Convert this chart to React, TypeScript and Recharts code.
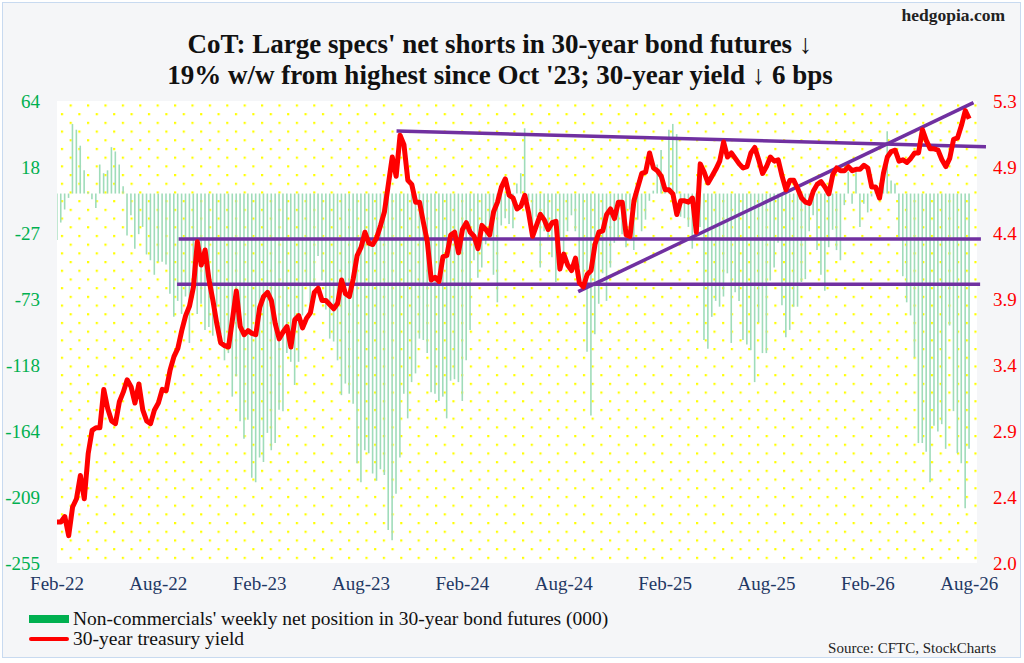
import {
  Bar,
  CartesianGrid,
  ComposedChart,
  Line,
  ReferenceLine,
  XAxis,
  YAxis,
} from 'recharts'

// weekly net position of non-commercials, 000 contracts
const netPosition = [
  -32, -20, -11, -3, 48, 44, 33, 16, 1, -4,
  -10, 20, 14, 16, 32, 29, 20, 5, -29, -15,
  -38, -28, -23, -42, -46, -56, -47, -47, -49, -69,
  -85, -74, -83, -71, -103, -64, -83, -76, -94, -92,
  -98, -78, -97, -115, -110, -140, -126, -157, -169, -156,
  -196, -199, -182, -185, -165, -177, -172, -149, -150,
  -110, -116, -132, -116, -84, -64, -80, -64, -43, -60,
  -80, -100, -102, -115, -139, -131, -138, -145, -186, -199,
  -177, -179, -193, -198, -190, -194, -232, -239, -207, -182,
  -138, -155, -130, -124, -100, -101, -110, -137, -138, -143,
  -140, -155, -129, -128, -130, -143, -115, -94, -46, -58,
  -51, -35, -26, -56, -75, -22, -17, -21, -24,
  7, 14, 45, -5, -26, -16, -51, -26, -32, -44,
  -61, -32, -44, -26, -15, -26, -51, -64, -109, -153,
  -97, -76, -55, -74, -51, -34, -31, -28, -37, -11,
  -39, -18, -26, -18, -5, 2, 20, 30, 5, 44,
  48, 41, -16, -17, -23, -38, -26, -23, -101, -107,
  -85, -74, -78, -71, -55, -103, -68, -74, -101,
  -104, -108, -130, -89, -110, -110, -60, -51, -34, -77,
  -99, -94, -78, -78, -61, -59, -26, -15, -39, -56,
  -67, -37, -25, -39, -46, -8, 15, -7, 15, -23,
  -7, -13, -2, 3, -1, 6, 43, 9, 7, -30,
  -57, -75, -84, -113, -172, -172, -178, -199, -160, -164,
  -159, -176, -91, -150, -179, -186, -217, -176,
]

// 30-year treasury yield, %
const yield30 = [
  2.26, 2.26, 2.3, 2.16, 2.37, 2.43, 2.6, 2.43, 2.76, 2.93,
  2.95, 2.95, 3.23, 3.09, 3.0, 2.98, 3.14, 3.21, 3.3, 3.25,
  3.13, 3.27, 3.08, 3.0, 2.98, 3.08, 3.13, 3.23, 3.22, 3.37,
  3.47, 3.53, 3.66, 3.77, 3.84, 3.98, 4.31, 4.14, 4.25, 4.03,
  3.88, 3.71, 3.57, 3.55, 3.54, 3.74, 3.95, 3.69, 3.63, 3.66,
  3.64, 3.63, 3.83, 3.91, 3.94, 3.88, 3.71, 3.6, 3.65,
  3.69, 3.54, 3.74, 3.77, 3.68, 3.75, 3.79, 3.94, 3.97, 3.88,
  3.88, 3.85, 3.82, 3.86, 4.03, 3.93, 3.91, 4.04, 4.21, 4.27,
  4.38, 4.3, 4.29, 4.34, 4.43, 4.53, 4.73, 4.93, 4.79, 5.09,
  5.02, 4.76, 4.73, 4.6, 4.6, 4.45, 4.31, 4.03, 4.05, 4.02,
  4.2, 4.21, 4.36, 4.38, 4.23, 4.4, 4.45, 4.38, 4.35, 4.26,
  4.43, 4.4, 4.36, 4.53, 4.6, 4.71, 4.77, 4.65, 4.63,
  4.55, 4.57, 4.65, 4.52, 4.35, 4.43, 4.51, 4.47, 4.4, 4.45,
  4.46, 4.11, 4.22, 4.14, 4.1, 4.19, 4.01, 3.98, 4.07, 4.1,
  4.29, 4.38, 4.39, 4.51, 4.55, 4.48, 4.6, 4.6, 4.36, 4.35,
  4.61, 4.71, 4.81, 4.82, 4.96, 4.85, 4.83, 4.79, 4.69, 4.69,
  4.66, 4.51, 4.61, 4.61, 4.6, 4.63, 4.38, 4.88, 4.82, 4.74,
  4.79, 4.84, 4.9, 5.04, 4.93, 4.96, 4.92, 4.88, 4.85,
  4.86, 4.96, 5.0, 4.91, 4.81, 4.86, 4.93, 4.9, 4.91, 4.79,
  4.69, 4.76, 4.76, 4.7, 4.63, 4.6, 4.59, 4.68, 4.73, 4.75,
  4.71, 4.66, 4.8, 4.85, 4.83, 4.83, 4.86, 4.83, 4.84, 4.84,
  4.87, 4.85, 4.71, 4.71, 4.63, 4.81, 4.93, 4.97, 4.98, 4.9,
  4.91, 4.89, 4.92, 4.96, 4.96, 5.13, 5.05, 4.99, 4.99, 4.98,
  4.91, 4.86, 4.92, 5.06, 5.07, 5.16, 5.27, 5.21,
]

const xTickLabels = ['Feb-22', 'Aug-22', 'Feb-23', 'Aug-23', 'Feb-24', 'Aug-24', 'Feb-25', 'Aug-25', 'Feb-26', 'Aug-26']
const weeksPerTick = 26

const leftTickLabels = ['64', '18', '-27', '-73', '-118', '-164', '-209', '-255']
const leftDomain: [number, number] = [-254.7, 63.8]
const rightTickLabels = ['5.3', '4.9', '4.4', '3.9', '3.4', '2.9', '2.4', '2.0']
const rightDomain: [number, number] = [1.96, 5.34]

// hand-drawn trendlines on the yield, in (week, yield) terms
const trendLines = [
  { x1: 31.2, y1: 4.33, x2: 237, y2: 4.33 },
  { x1: 30.8, y1: 4.0, x2: 236.8, y2: 4.0 },
  { x1: 87.1, y1: 5.12, x2: 238.3, y2: 5.005 },
  { x1: 133.7, y1: 3.945, x2: 235.1, y2: 5.328 },
]

const data = netPosition.map((net, i) => ({ i, net, yld: yield30[i] }))

const serif = '"Liberation Serif", "Times New Roman", serif'

function evenTicks([lo, hi]: [number, number], n: number) {
  const step = (hi - lo) / (n - 1)
  return Array.from({ length: n }, (_, k) => hi - k * step)
}

function labelFor(value: number, [lo, hi]: [number, number], labels: string[]) {
  const step = (hi - lo) / (labels.length - 1)
  return labels[Math.round((hi - value) / step)] ?? ''
}

export default function App() {
  const xTicks = xTickLabels.map((_, k) => k * weeksPerTick)

  return (
    <div style={{ position: 'absolute', left: 0, top: 0, width: 1024, height: 663, fontFamily: serif }}>
      <div
        style={{
          position: 'absolute',
          left: 2,
          top: 2,
          width: 1017,
          height: 654,
          border: '1.5px solid #c8daf0',
          background: '#f5f6f8',
        }}
      />
      <ComposedChart
        width={1024}
        height={663}
        data={data}
        margin={{ top: 101, right: 0, bottom: 70, left: 0 }}
        style={{ position: 'absolute', left: 0, top: 0 }}
      >
        <defs>
          <pattern id="dots" width={17.4} height={17.4} patternUnits="userSpaceOnUse">
            <rect width={17.4} height={17.4} fill="#ffffff" />
            <rect x={0} y={0} width={2.2} height={2.2} fill="#ffff00" />
            <rect x={8.7} y={8.7} width={2.2} height={2.2} fill="#ffff00" />
          </pattern>
        </defs>
        <CartesianGrid yAxisId="net" fill="url(#dots)" horizontal={false} vertical={false} stroke="none" />
        <XAxis
          type="number"
          dataKey="i"
          domain={[0, 236]}
          allowDataOverflow
          ticks={xTicks}
          interval={0}
          height={30}
          axisLine={false}
          tickLine={false}
          tickSize={0}
          tickMargin={14}
          tick={{ fill: '#1f3864', fontSize: 19, fontFamily: serif }}
          tickFormatter={(v) => xTickLabels[Math.round(v / weeksPerTick)] ?? ''}
        />
        <YAxis
          yAxisId="net"
          domain={leftDomain}
          allowDataOverflow
          ticks={evenTicks(leftDomain, leftTickLabels.length)}
          interval={0}
          width={57}
          axisLine={false}
          tickLine={false}
          tickSize={0}
          tickMargin={17}
          tick={{ fill: '#00b050', fontSize: 19, fontFamily: serif }}
          tickFormatter={(v) => labelFor(v, leftDomain, leftTickLabels)}
        />
        <YAxis
          yAxisId="yld"
          orientation="right"
          domain={rightDomain}
          allowDataOverflow
          ticks={evenTicks(rightDomain, rightTickLabels.length)}
          interval={0}
          width={47}
          axisLine={false}
          tickLine={false}
          tickSize={0}
          tickMargin={16}
          tick={{ fill: '#ff0000', fontSize: 19, fontFamily: serif }}
          tickFormatter={(v) => labelFor(v, rightDomain, rightTickLabels)}
        />
        <Bar yAxisId="net" dataKey="net" fill="#9fdcba" barSize={1.6} isAnimationActive={false} />
        {trendLines.map((t, k) => (
          <ReferenceLine
            key={k}
            yAxisId="yld"
            segment={[
              { x: t.x1, y: t.y1 },
              { x: t.x2, y: t.y2 },
            ]}
            stroke="#7030a0"
            strokeWidth={3.5}
            ifOverflow="visible"
          />
        ))}
        <Line
          yAxisId="yld"
          dataKey="yld"
          type="linear"
          stroke="#ff0000"
          strokeWidth={5}
          strokeLinejoin="round"
          dot={false}
          activeDot={false}
          isAnimationActive={false}
        />
      </ComposedChart>

      <div style={{ position: 'absolute', right: 19, top: 5, fontSize: 17.5, fontWeight: 'bold', color: '#222' }}>
        hedgopia.com
      </div>
      <div
        style={{
          position: 'absolute',
          left: 0,
          top: 29,
          width: 1000,
          textAlign: 'center',
          fontSize: 27,
          fontWeight: 'bold',
          lineHeight: '31px',
          color: '#111',
        }}
      >
        <div>CoT: Large specs' net shorts in 30-year bond futures ↓</div>
        <div>19% w/w from highest since Oct '23; 30-year yield ↓ 6 bps</div>
      </div>

      <div style={{ position: 'absolute', left: 29, top: 609, fontSize: 19.5, lineHeight: '20px', color: '#111' }}>
        <div style={{ display: 'flex', alignItems: 'center' }}>
          <span style={{ display: 'inline-block', width: 40, height: 8, background: '#00b050', marginRight: 4 }} />
          Non-commercials' weekly net position in 30-year bond futures (000)
        </div>
        <div style={{ display: 'flex', alignItems: 'center' }}>
          <span
            style={{
              display: 'inline-block',
              width: 40,
              height: 4,
              borderRadius: 2,
              background: '#ff0000',
              marginRight: 4,
            }}
          />
          30-year treasury yield
        </div>
      </div>
      <div style={{ position: 'absolute', right: 28, top: 640, fontSize: 15, color: '#222' }}>
        Source: CFTC, StockCharts
      </div>
    </div>
  )
}
